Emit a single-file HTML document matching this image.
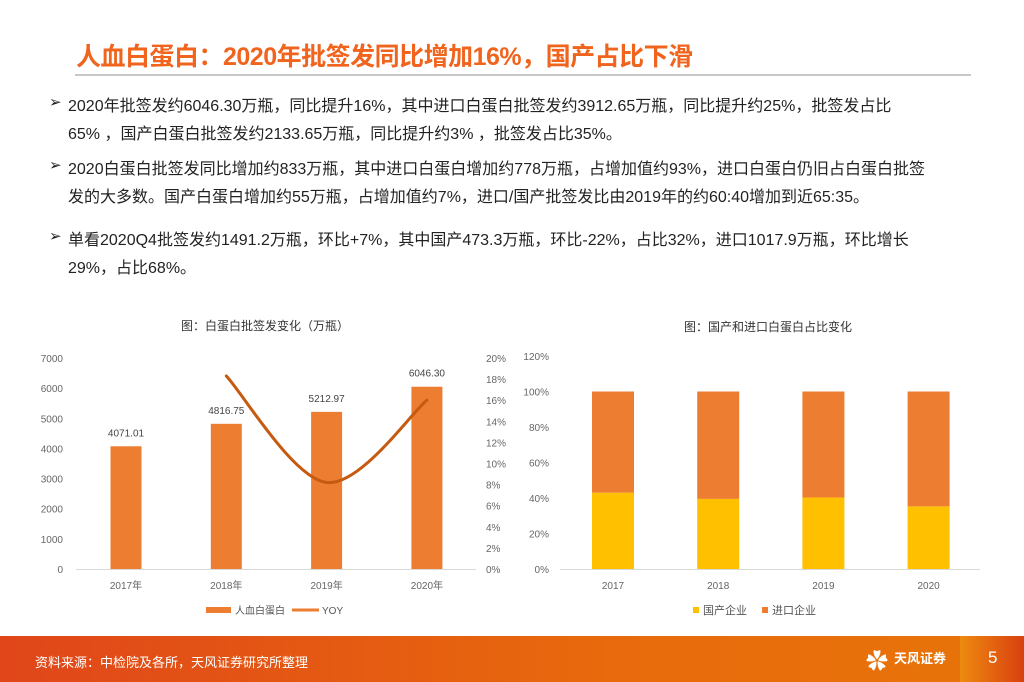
<!DOCTYPE html>
<html><head><meta charset="utf-8"><style>
body{margin:0;width:1024px;height:682px;overflow:hidden;background:#fff;font-family:"Liberation Sans","Noto Sans CJK SC",sans-serif;position:relative}
.t{position:absolute;white-space:nowrap}
#title{left:76px;top:37px;font-size:25px;font-weight:bold;color:#f0641e;letter-spacing:-0.5px}
#rule{position:absolute;left:75px;top:74px;width:896px;height:2px;background:#c8c8c8}
.b{position:absolute;left:49px;font-size:15px;color:#222;font-family:"DejaVu Sans",sans-serif}
.l{position:absolute;left:68px;font-size:16px;color:#222;white-space:nowrap}
#footer{position:absolute;left:0;top:636px;width:1024px;height:46px;background:linear-gradient(90deg,#e0461a,#e86a0c 60%,#e8740a)}
</style></head><body>
<div class="t" id="title">人血白蛋白：2020年批签发同比增加16%，国产占比下滑</div>
<div id="rule"></div>
<div>
<div class="b" style="top:93px">➢</div>
<div class="l" style="top:92px">2020年批签发约6046.30万瓶，同比提升16%，其中进口白蛋白批签发约3912.65万瓶，同比提升约25%，批签发占比</div>
<div class="l" style="top:120px">65% ，国产白蛋白批签发约2133.65万瓶，同比提升约3% ，批签发占比35%。</div>
<div class="b" style="top:156px">➢</div>
<div class="l" style="top:155px">2020白蛋白批签发同比增加约833万瓶，其中进口白蛋白增加约778万瓶，占增加值约93%，进口白蛋白仍旧占白蛋白批签</div>
<div class="l" style="top:183px">发的大多数。国产白蛋白增加约55万瓶，占增加值约7%，进口/国产批签发比由2019年的约60:40增加到近65:35。</div>
<div class="b" style="top:227px">➢</div>
<div class="l" style="top:226px">单看2020Q4批签发约1491.2万瓶，环比+7%，其中国产473.3万瓶，环比-22%，占比32%，进口1017.9万瓶，环比增长</div>
<div class="l" style="top:254px">29%，占比68%。</div>
</div>
<svg id="c1" width="1024" height="682" style="position:absolute;left:0;top:0"></svg>
<div id="footer">
<div class="t" style="left:35px;top:16px;color:#fff;font-size:13px">资料来源：中检院及各所，天风证券研究所整理</div>
<div class="t" style="left:866px;top:8px;color:#fff;font-size:22px">✿</div>
<div class="t" style="left:894px;top:12px;color:#fff;font-size:13px;font-weight:bold">天风证券</div>
<div style="position:absolute;left:960px;top:0;width:64px;height:46px;background:linear-gradient(90deg,#ee8a10,#d8400f)"></div>
<div class="t" style="left:988px;top:12px;color:#fff;font-size:17px">5</div>
</div>
<script>
const years1=["2017年","2018年","2019年","2020年"];
const volumes=[4071.01,4816.75,5212.97,6046.30];
const volLabels=["4071.01","4816.75","5212.97","6046.30"];
const yoy=[null,18.3,8.2,16.0];
const leftTicks=[0,1000,2000,3000,4000,5000,6000,7000];
const rightTicks=[0,2,4,6,8,10,12,14,16,18,20];
const years2=["2017","2018","2019","2020"];
const domestic=[43.0,39.5,40.3,35.3];
const imported=[57.0,60.5,59.7,64.7];
const pctTicks=[0,20,40,60,80,100,120];
const NS="http://www.w3.org/2000/svg";
const svg=document.getElementById('c1');
function mk(tag,a,txt){const e=document.createElementNS(NS,tag);for(const k in a)e.setAttribute(k,a[k]);if(txt!==undefined)e.textContent=txt;svg.appendChild(e);return e;}
const F='"Liberation Sans","Noto Sans CJK SC",sans-serif';
const y0=569,yTop=358;
const yL=v=>y0-(v/7000)*(y0-yTop);
const yR=v=>y0-(v/20)*(y0-yTop);
const xC=i=>126+i*100.3;
let e=mk('text',{x:265,y:330,'text-anchor':'middle','font-size':12,fill:'#333','font-family':F},'图：白蛋白批签发变化（万瓶）');


leftTicks.forEach(v=>{const t=mk('text',{x:63,y:yL(v)+4,'text-anchor':'end','font-size':10,fill:'#666','font-family':F},String(v));

});
rightTicks.forEach(v=>{const t=mk('text',{x:486,y:yR(v)+4,'font-size':10,fill:'#666','font-family':F},v+'%');

});
volumes.forEach((v,i)=>{const r=mk('rect',{x:xC(i)-15.5,y:yL(v),width:31,height:y0-yL(v),fill:'#ed7d31'});


const t=mk('text',{x:xC(i),y:yL(v)-10,'text-anchor':'middle','font-size':10,fill:'#444','font-family':F},volLabels[i]);


const xl=mk('text',{x:xC(i),y:589,'text-anchor':'middle','font-size':10,fill:'#666','font-family':F},years1[i]);

});
e=mk('line',{x1:76,x2:476,y1:y0+0.5,y2:y0+0.5,stroke:'#d9d9d9'});


const pts=yoy.map((v,i)=>v===null?null:[xC(i),yR(v)]).filter(p=>p);
let d='M'+pts[0][0]+','+pts[0][1];
for(let i=1;i<pts.length;i++){const p0=pts[Math.max(0,i-2)],p1=pts[i-1],p2=pts[i],p3=pts[Math.min(pts.length-1,i+1)];
const c1=[p1[0]+(p2[0]-p0[0])/6,p1[1]+(p2[1]-p0[1])/6],c2=[p2[0]-(p3[0]-p1[0])/6,p2[1]-(p3[1]-p1[1])/6];
d+=' C'+c1+' '+c2+' '+p2;}
e=mk('path',{d:d,fill:'none',stroke:'#c55a11','stroke-width':3,'stroke-linecap':'round'});


e=mk('rect',{x:206,y:607,width:25,height:6,fill:'#ed7d31'});


e=mk('text',{x:235,y:614,'font-size':10,fill:'#555','font-family':F},'人血白蛋白');


e=mk('line',{x1:292,x2:319,y1:610,y2:610,stroke:'#ed7d31','stroke-width':3});


e=mk('text',{x:322,y:614,'font-size':10,fill:'#555','font-family':F},'YOY');


const yP=v=>569-(v/120)*(569-356);
const xC2=i=>613+i*105.2;
e=mk('text',{x:768,y:331,'text-anchor':'middle','font-size':12,fill:'#333','font-family':F},'图：国产和进口白蛋白占比变化');


pctTicks.forEach(v=>{const t=mk('text',{x:549,y:yP(v)+4,'text-anchor':'end','font-size':10,fill:'#666','font-family':F},v+'%');

});
domestic.forEach((v,i)=>{const x=xC2(i)-21;
const r1=mk('rect',{x:x,y:yP(v),width:42,height:569-yP(v),fill:'#ffc000'});


const r2=mk('rect',{x:x,y:yP(v+imported[i]),width:42,height:yP(v)-yP(v+imported[i]),fill:'#ed7d31'});


const t=mk('text',{x:xC2(i),y:589,'text-anchor':'middle','font-size':10,fill:'#666','font-family':F},years2[i]);

});
e=mk('line',{x1:560,x2:980,y1:569.5,y2:569.5,stroke:'#d9d9d9'});


e=mk('rect',{x:693,y:607,width:6,height:6,fill:'#ffc000'});


e=mk('text',{x:703,y:614,'font-size':11,fill:'#555','font-family':F},'国产企业');


e=mk('rect',{x:762,y:607,width:6,height:6,fill:'#ed7d31'});


e=mk('text',{x:772,y:614,'font-size':11,fill:'#555','font-family':F},'进口企业');


</script>
</body></html>
